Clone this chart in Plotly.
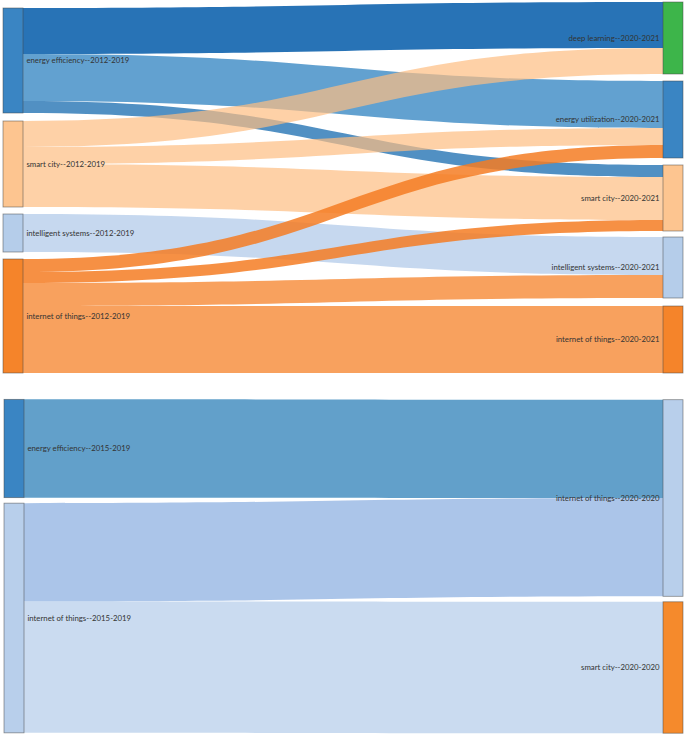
import plotly.graph_objects as go

W, H = 685, 737

# ---------------- Top sankey (2012-2019 -> 2020-2021) ----------------
top_labels = [
    "energy efficiency--2012-2019",
    "smart city--2012-2019",
    "intelligent systems--2012-2019",
    "internet of things--2012-2019",
    "deep learning--2020-2021",
    "energy utilization--2020-2021",
    "smart city--2020-2021",
    "intelligent systems--2020-2021",
    "internet of things--2020-2021",
]
top_source = [0, 0, 0, 1, 1, 1, 2, 3, 3, 3, 3]
top_target = [4, 5, 6, 4, 5, 6, 7, 5, 6, 7, 8]
top_values = [46, 47, 12, 26, 17, 43, 38, 13, 11, 23, 67]

# ---------------- Bottom sankey (2015-2019 -> 2020-2020) ----------------
bot_labels = [
    "energy efficiency--2015-2019",
    "internet of things--2015-2019",
    "internet of things--2020-2020",
    "smart city--2020-2020",
]
bot_source = [0, 1, 1]
bot_target = [2, 2, 3]
bot_values = [98, 98, 131]

# ---------------- styling / layout ----------------
top_node_colors = ["#3a85c3", "#fdc590", "#b5cdea", "#f5842a",
                   "#3db54a", "#3a85c3", "#fdc590", "#b5cdea", "#f5842a"]
top_link_colors = [
    "rgba(33,110,180,0.97)", "rgba(70,145,200,0.85)", "rgba(50,125,185,0.85)",
    "rgba(253,190,130,0.7)", "rgba(253,190,130,0.7)", "rgba(253,190,130,0.7)",
    "rgba(174,199,232,0.7)",
    "rgba(245,125,35,0.85)", "rgba(245,125,35,0.85)", "rgba(245,130,40,0.75)", "rgba(245,130,40,0.75)",
]
bot_node_colors = ["#3a85c3", "#b8cfeb", "#b8cfeb", "#f58a2c"]
bot_link_colors = ["rgba(31,119,180,0.7)", "rgba(150,183,228,0.8)", "rgba(174,199,232,0.65)"]

THICK = 20
top_box = (3, 683, 2, 373)     # px: x0, x1, y0, y1
bot_box = (4, 683, 399, 733)
# node centres in pixels (layout only)
top_node_cy = [60.5, 164, 233, 316, 38, 119.5, 198, 267.5, 339.5]
top_col = [0, 0, 0, 0, 1, 1, 1, 1, 1]
bot_node_cy = [448.5, 618, 498, 667.5]
bot_col = [0, 0, 1, 1]


def dom(box):
    x0, x1, y0, y1 = box
    return dict(x=[x0 / W, x1 / W], y=[1 - y1 / H, 1 - y0 / H])


def node_xy(box, cys, cols):
    x0, x1, y0, y1 = box
    w, h = x1 - x0, y1 - y0
    xs = [(THICK / 2) / w if c == 0 else 1 - (THICK / 2) / w for c in cols]
    ys = [(cy - y0) / h for cy in cys]
    return xs, ys


font = dict(family="Lato, Open Sans, sans-serif", size=7.8, color="#333333", shadow="none")
node_line = dict(color="rgba(70,70,70,0.6)", width=0.8)

tx, ty = node_xy(top_box, top_node_cy, top_col)
bx, by = node_xy(bot_box, bot_node_cy, bot_col)

fig = go.Figure()
fig.add_trace(go.Sankey(
    arrangement="fixed",
    domain=dom(top_box),
    node=dict(label=top_labels, color=top_node_colors, pad=7, thickness=THICK,
              line=node_line, x=tx, y=ty),
    link=dict(source=top_source, target=top_target, value=top_values, color=top_link_colors),
    textfont=font,
))
fig.add_trace(go.Sankey(
    arrangement="fixed",
    domain=dom(bot_box),
    node=dict(label=bot_labels, color=bot_node_colors, pad=6, thickness=THICK,
              line=node_line, x=bx, y=by),
    link=dict(source=bot_source, target=bot_target, value=bot_values, color=bot_link_colors),
    textfont=font,
))
fig.update_layout(width=W, height=H, margin=dict(l=0, r=0, t=0, b=0),
                  paper_bgcolor="white", plot_bgcolor="white", font=font)
fig.write_html("out.html", config={"displayModeBar": False},
               post_script="document.body.style.margin='0';")
